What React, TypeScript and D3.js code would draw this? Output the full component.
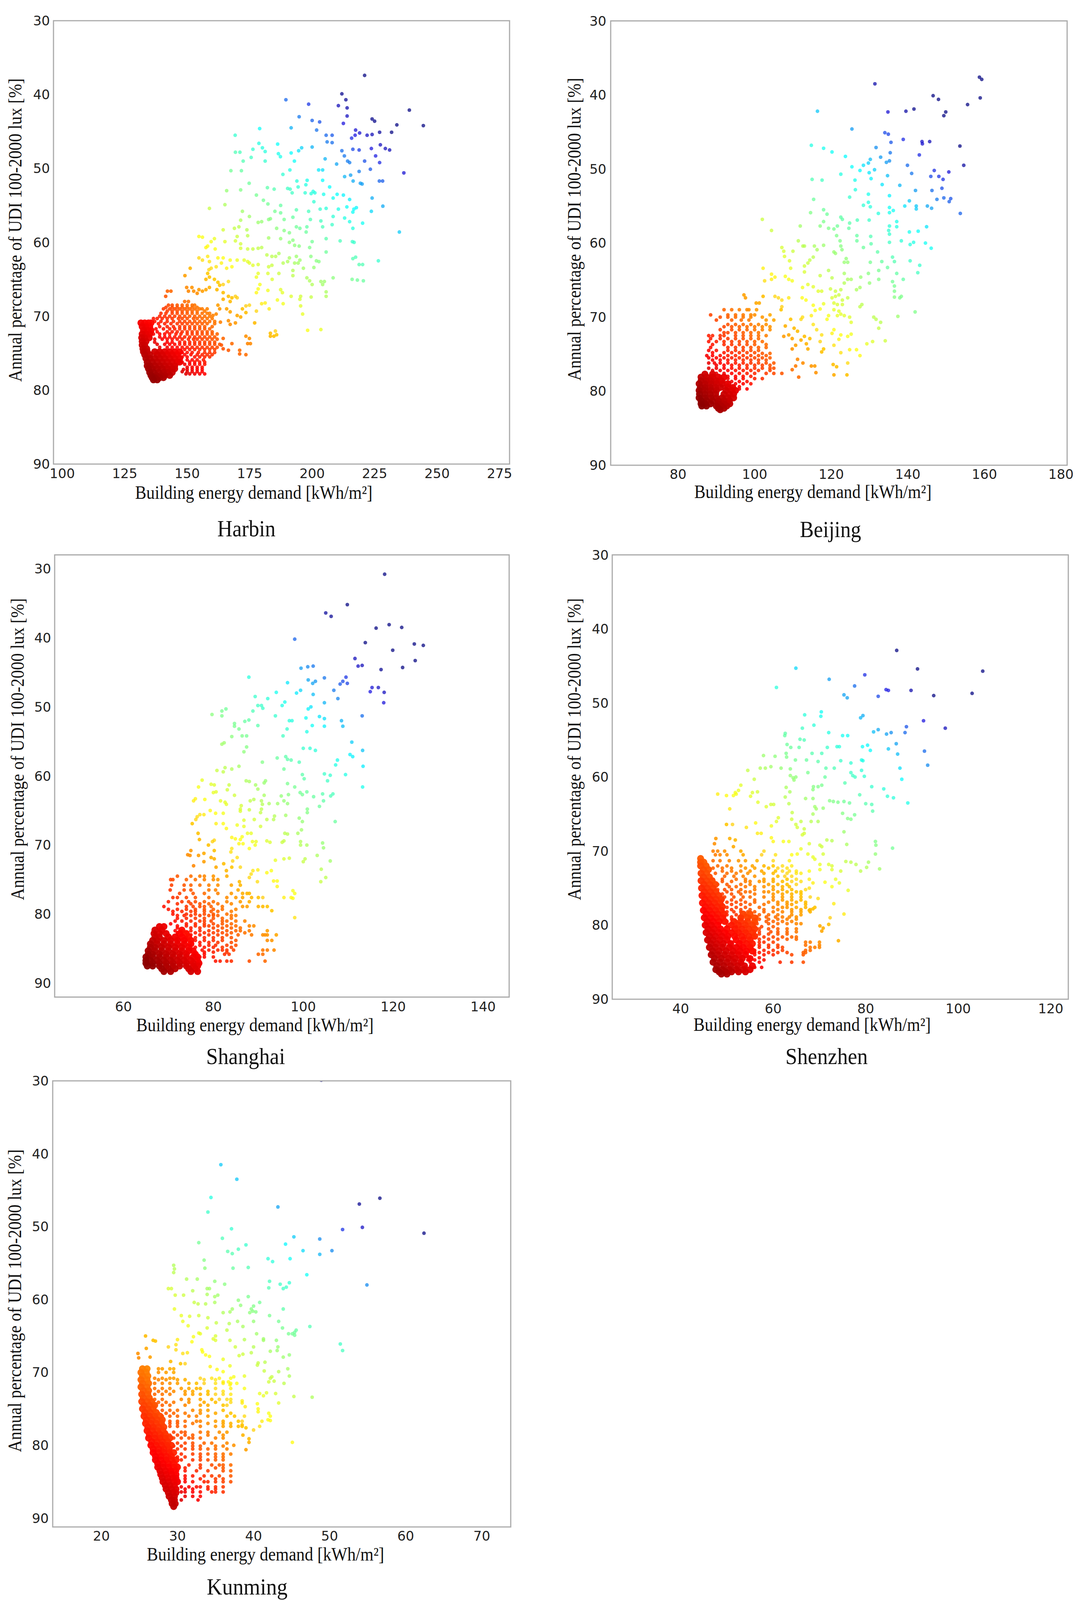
import React from "react";
import * as d3 from "d3";

type P = number[];
const yTicksStd = [30, 40, 50, 60, 70, 80, 90];
const xTitle = "Building energy demand [kWh/m²]";
const yTitle = "Annual percentage of UDI 100-2000 lux [%]";
const jetPositions = [0, 0.11, 0.35, 0.5, 0.65, 0.89, 1];
const jetColors = ["#800000", "#ff0000", "#ffff00", "#80ff80", "#00ffff", "#1810e0", "#000080"];

const harbinTicks = [100, 125, 150, 175, 200, 225, 250, 275];
const beijingTicks = [80, 100, 120, 140, 160, 180];
const shanghaiTicks = [60, 80, 100, 120, 140];
const shenzhenTicks = [40, 60, 80, 100, 120];
const kunmingTicks = [20, 30, 40, 50, 60, 70];

const harbinPoints: P[] = [[221,37.4],[211.9,39.9],[213.5,40.7],[210.5,41.5],[214,41.8],[189.5,40.7],[198.6,41.3],[238.9,42.1],[244.5,44.2],[194.8,43],[214,42.9],[200,43.5],[203,43.7],[212.5,43.9],[224,43.3],[225,43.6],[233.9,44.1],[191.6,44.5],[201.8,44.8],[217.4,44.8],[179,44.6],[169.2,45.5],[205.6,45.5],[208,45.5],[217.2,45.5],[219,45.2],[215.8,45.9],[222,45.5],[224,45.4],[227,45.1],[231.8,45.1],[206,46.4],[208,46.5],[216.3,47.4],[218.8,47.5],[211.9,47.6],[223.7,47.3],[227.3,46.8],[229.3,47.3],[231,47.5],[212.9,48.3],[225.4,48.3],[214.2,49],[215,49.2],[221,49],[227,49.2],[209.8,49.4],[205.2,48.7],[223.3,50.1],[218.8,50.4],[236.7,50.6],[213,51.1],[215.4,50.9],[216.4,51.7],[219.3,52],[220,52.1],[226.9,51.7],[228.2,51.7],[224,54],[228.3,55.1],[223.7,55.8],[234.9,58.6],[226.5,62.5],
[186.2,46.7],[178.7,46.6],[180.1,47.2],[181.2,47.7],[176.3,47.4],[175.6,48.5],[186.5,48],[187.3,48.4],[191.6,47.9],[194.6,47.6],[195.8,47.2],[200,47.1],[169.3,47.8],[171.1,47.8],[172.4,49],[167.5,50.3],[171.7,50.3],[181.2,49],[192.9,49],[188.3,50.8],[191.1,50.2],[202.6,50.2],[204.2,50.2],[174.8,52],[193.9,51.7],[197.5,52.2],[198,51.6],[204.2,51.6],[207,52.5],[190.2,52.7],[191.2,52.8],[192,53.3],[194.4,52.5],[197.2,53.3],[199.6,53.4],[200.4,53.1],[201.1,53.3],[200.7,54.5],[204.6,53.5],[208.4,54],[210,53.5],[212.5,53.6],[215,54.2],[177.7,53.6],[180.5,54.3],[182.3,54.8],[182.1,52.6],[184.8,52.8],[171.4,52.9],[165.8,53],[165.1,54.9],[158.9,55.4],[172.1,55.8],[185.1,55.8],[187.4,55],[187.4,56],[188.8,56.9],[192.3,56.6],[193.7,55.6],[198.6,55.8],[199.3,56.9],[203.2,55.5],[205.6,55.4],[210.5,55.5],[213.9,55.2],[216.7,55.5],[217.7,55.3],[216.3,55.9],[215,57.2],[216.3,58.1],[220.2,57.4],[208.4,56.5],[213,56.7],[203.5,57.1],[197.9,57.9],[204.2,57.9],[208,57.6],
[182.6,56.9],[183.3,56.8],[178.4,57.3],[179.8,57.2],[174.9,56.5],[171.4,57],[170.7,57.9],[168.9,58.1],[164.4,58.3],[173.9,58.3],[174.2,59.1],[170,59.2],[169.3,59.8],[185.8,58.1],[188.8,58.4],[190.9,58.7],[193.7,57.9],[195.1,58.1],[197.6,58.6],[187.4,59.5],[190.9,60],[192.3,59.7],[200,59.9],[205.6,59.5],[211.2,59.8],[216.1,59.9],[216.8,60],[182.6,59.4],[179.8,60.7],[178.4,60.8],[176.3,60.9],[174.2,60.9],[171.4,60.8],[171.4,60.2],[165.1,59.9],[156.1,59.3],[154.7,59.2],[160.9,59.5],[159.6,59.9],[158.2,60.5],[157.5,60.7],[161.2,60.9],[193,60.4],[194.8,60.5],[199,60.7],[199.5,61.9],[205.6,61.3],[186.7,61.5],[185.4,61.9],[181.9,61.7],[183.9,61.9],[193.7,61.9],[190.9,62.1],[190.2,62.6],[195.1,62.4],[194.4,62.8],[193,62.8],[188.4,62.8],[201.7,62.5],[202.7,62.6],[216.3,62.2],[217.4,62],[218.8,63],[220.2,63],[172.8,62.4],[174.2,62.6],[174.9,62.8],[176.3,63.1],[178.4,63],[170,62.4],[182.6,63.3],[183.9,63.1],[200.7,63.4],[192.3,63.8],[196.5,63.5],[178.4,64.2],[177.7,64.7],[182.3,64.2],[184,65],[186.7,64.2],[192.3,64.5],[197.9,64.8],[199,65.2],[208.4,64.8],[203.5,65.3],[204.9,65.3],[216,65],[218.1,65.1],[220.5,65.2],[200,65.7],[204.2,65.7],[205.6,66.7],[205.6,67.3],[179.1,65.7],[178.4,66.3],[177.7,66.8],[182.3,66.5],[187.4,66.4],[188.1,66.8],[191.6,67.3],[195.4,67.3],[195.1,67.7],[186.1,67.8],[199.6,67.4],[188.4,68.3],[195.4,68.6],[179.8,68.3],[181.2,68.2],[182.8,69],[177.7,69.3],[196.2,69.7],[198.2,71.9],[203.5,71.8],
[183.3,72.3],[184.7,72.7],[185.8,72.5],[183.3,72.7],[185.3,72],[177,70.9],[173.5,68.6],[174.9,68.5],[172.1,69],[173.5,69.5],[170,69.9],[171.4,70.1],[169.3,70.9],[167.2,71.1],[166.5,70.6],[163.3,70.8],[173.5,72.7],[174.9,73],[174.2,73.7],[175.3,73.7],[173.5,75.2],[171,74.6],[171,75.1],[164.4,73],[163.7,73.9],[166.5,74.6],[164.4,74.4],[167.9,73.7],[164.4,66.8],[166.5,67.3],[167.9,67.5],[169.3,67.3],[170,67.5],[167.2,68],[164.4,67.7],[162.3,68.5],[163,69],[161.6,69.7],[160.3,69.9],[167.2,69.4],[165.8,69],[158.2,64.2],[158.9,64.7],[157.5,65],[159.6,63.5],[158.7,63.7],[160.9,65],[162.3,65.4],[163,65.8],[164.4,65.7],[166.5,65.3],[161.9,66.4],[162.3,62.1],[164.4,62.1],[167.2,62.4],[167.9,63.3],[165.8,63.5],[161.6,63.3],[163.7,62.8],[158.2,61.9],[158.9,62.6],[154.7,62.1],[156.1,62.4],[151.2,63.5],[149.1,64.5],[149.8,66.1],[151.9,66.1],[152.6,66.6],[154.7,66.4],[156.1,66.6],[157.5,66.4],[158.9,66.1],[150.5,66.6],[154,66.9],[142.1,66.6],[143.5,66.6],[141.4,67.3]];
const harbinRows: P[] = [[68,149,150.5],[68.5,142.5,144,146,148,150,152,153],[69,140.5,143,145,147,149,151,153,155,156,158],[69.6,139.5,141.5,144,146,148,150,152,154,156,158,159],[70.3,136.5,138,140,142,144,146.5,148,150,152.5,154,156,158,160],[71,138.5,141,143.5,146,148,150,152,154,156,158,161],[71.7,137.5,140.5,143,145,147,149,151,153,155,157,159],[72.4,136.5,139,141,143,145.5,147.5,150,152,154,156,158,160,162],[73.1,137,140,142,144,146,148,150.5,152.5,154,156,158,160,162],[73.8,138,141,143,145,147,149,151,153,155,157,159,161,163],[74.5,149,151,153,155,157,159,161],[75.2,149,151.5,154,156,158,160],[75.9,150,152,154,156.5],[76.5,149,151,153,155,157],[77.2,148.5,150,152,154,156],[77.8,149.5,151,153,155,157],
[68.8,141.5,144,146,148,150,152,154],[69.3,142,144,146,148,150,152,154,157],[70,139,141,143,145,147,149,151,153,155,157,159],[70.7,137,139.5,142,144.5,147,149,151,153,155,157,159,161],[71.4,139,142,144.5,147,149,151,153,155,157,160],[72.1,136,138,142,144,146,148,150,152,154,156,158,160],[72.8,139,141,143,145,147,149,151,153,155,157,159,161],[73.5,137,142,144,147,149,151,153,155,157,159,161],[74.2,139,142,144,146,148,150,152,154,156,158,160,162],[74.9,148,150,152,154.5,157,159,161],[75.5,148,150,153,155,157,159],[76.2,148,151,153,155,157],[76.9,150,152,154,156],[77.5,148,150,152,154,156]];
const harbinCore: P[] = [[71.4,132,133.5,135],[72.4,132,133.5,135],[73.4,132,133.5],[74.4,132.3,133.8],[75.2,133,135,138,140,142,144,146],[76.2,134,136,138,140,142,144,146,147],[77.1,134.5,136,138,140,142,144,145],[78,135.5,137.5,139.5,141,143],[78.6,136.5,138],
[70.9,131.5,133,134.5,135.5],[71.9,132.5,134,135.5],[72.9,131.8,133,134.8],[73.9,132,133],[74.8,132.5,134,137,139,141,143,145,147],[75.7,133.5,135,137,139,141,143,145,147],[76.7,134,135,137,139,141,143,145],[77.6,135,136.5,138.5,140.5,142,144],[78.3,136,137,139,140.5]];

const beijingPoints: P[] = [[158.7,37.6],[159.3,37.9],[158.9,40.4],[155.6,41.3],[131.4,38.5],[146.6,40.1],[148,40.6],[149.9,42.3],[149.4,42.8],[116.4,42.2],[134.8,42.3],[139.5,42.2],[141.6,41.9],[125.4,44.6],[134,45.1],[134.9,45.3],[138.8,46],[135.6,46.4],[143.7,46.3],[143.8,46.6],[145.7,46.3],[153.6,46.9],[114.8,46.8],[118,47.2],[120.2,47.7],[131.7,47.1],[135.4,47.8],[143,48.1],[123.7,48.3],[132.9,48.4],[135.2,48.9],[134.4,49.1],[130.2,48.7],[129.7,49.2],[128.4,49.5],[125.4,49.7],[139.9,49.5],[154.6,49.5],[146.9,50.2],[127.5,50.2],[131.3,50.1],[122.5,50.7],[129.9,50.5],[141,50.6],[150.7,50.4],[134.7,50.9],[146,51],[148.1,51],[149.2,51.4],[115,51.4],[117.6,51.5],[126.2,51.5],[130.4,51.3],[133.3,52.1],[137.9,52.2],[126.3,52.8],[148.9,52.6],[146.3,52.9],[142,52.9],[129.7,53.4],[135.2,53.6],[124.8,53.8],[149.4,53.9],[151.2,54],[150.8,54.4],[147.6,54.1],[140.4,54.3],[115.4,54.1],[129.7,54.5],[128.4,54.9],[130.2,55.1],[139.2,55],[142.2,55],[142.2,55.4],[145.1,55],[146.2,55.3],[135.2,55.2],[136.2,55.6],[135.2,55.9],[132.3,56],[114.6,55.9],[153.7,56],
[102,56.8],[118,55.5],[118.9,56.1],[122.5,56.5],[122.9,56.8],[124.8,57.3],[126.8,56.9],[129.9,56.9],[137.1,57.1],[137.1,57.8],[144.9,57.8],[135.2,57.7],[135,58.3],[104.4,58.3],[111.9,57.7],[117.1,57.7],[118,57.1],[119.3,58],[120.7,58.1],[121.6,57.7],[124.6,58],[140.4,58.5],[142.7,58.4],[121.4,59],[126.7,59],[130.3,59.1],[135.2,58.8],[138.3,59.7],[140.6,60.2],[141.5,59.9],[144.6,60],[146.1,60.7],[135.2,59.9],[130.4,60.1],[126.7,59.7],[122.3,59.7],[122.5,60.4],[122.8,60.9],[111.4,59.7],[115.6,60.4],[116.3,60.9],[118,60.3],[107.1,60.6],[107.6,61.1],[112.6,60.4],[113,60.4],[110,61.1],[120.7,61.2],[121.1,61.4],[128.4,60.6],[132.1,61.2],[107.8,61.8],[115.3,61.9],[123.9,62.1],[123.4,62.6],[124.3,62.6],[136,61.9],[136.5,62.5],[130.2,62.6],[133.2,62.5],[140.6,62.4],[109.1,62.4],[114.4,62.3],[113.9,62.7],[113,63.1],[143.1,63],[134.7,63.3],[119.3,63.7],[102.2,63.4],[109.4,63.4],[113,63.9],[142.6,64],[132.4,63.7],[137.1,64.1],[123.4,64.1],[104.4,64.2],[105.3,64.6],[108,64.5],[102.6,65.1],[104.4,64.9],[108.9,64.9],[109.8,65.1],[117.1,64.4],[120.2,64.7],[124.3,64.9],[125.2,64.9],[127.7,64.6],[129.7,64.1],[138.8,64.9],[132.4,64.9],[136,65.2],[136.5,65.8],[130,65.4],[123.4,65.4],
[112.5,66],[113.9,65.6],[115.3,65.9],[116.6,66.5],[117.5,66.5],[119.8,66.2],[121.1,66.5],[122.5,66.3],[126.6,66.3],[127.5,66],[136.5,66.5],[136.5,67.3],[137.9,67.4],[138.3,67.2],[120.2,67.4],[121.1,67.2],[122,67],[122.9,67.7],[124.3,67.4],[120.7,68.1],[121.6,68.3],[122.9,68.3],[120.7,69],[122,69.2],[118,68.2],[117.1,68.9],[115.3,68.4],[115.8,69.1],[113.4,67.7],[112.4,67.4],[108.9,67.4],[107.1,67.7],[105.3,67.2],[106.2,67.4],[107.1,68.6],[106.9,69],[102.2,67.2],[97.2,67],[97.6,67.4],[100.4,68.1],[101.2,68.1],[127.5,68.6],[128,68.3],[141.9,69.3],[137.4,69.9],[131.1,70],[131.7,70.3],[132.9,70.7],[132.4,71.5],[134.1,73.2],[130.8,73.3],[129.3,73.6],[122.5,69.6],[121.6,69.8],[123.4,69.8],[124.8,70],[125.2,70.7],[119.3,69.8],[118.9,70.3],[114.8,69.8],[112.5,70],[112.1,70.3],[109.4,70.3],[108,71.2],[110.3,71.5],[111.2,71.9],[115.3,71],[116.2,71.7],[120.7,71.7],[120.2,72.2],[122.5,72.4],[122,73],[125.2,72.3],[124.3,72.6],[117.5,72.4],[117.1,73.3],[118,74.3],[117.5,74.7],[120.7,73.8],[113,72.6],[112.1,73.1],[113.5,73.6],[114.4,72.9],[109.8,72.9],[108.9,72.4],[107.6,72.6],[110.7,73.8],[109.8,74.3],[113.9,74.3],[124.8,74.4],[126.6,74.4],[127.5,75.2],[124.3,76.2],[122.5,74.8],[120.5,76.4],[121.4,76.7],[120.7,77.8],[124.1,77.8],[115.7,76.6],[116,77.5],[114.8,76.6],[112.6,76.2],[111.5,78.1],[109.8,77.1],[110.7,76.6],[111.2,75.7],[107.1,77.6]];
const beijingRows: P[] = [[69,92,94,96,98,98.5,100.5],[69.7,88.5,93,95,97,99,100,104],[70.4,90,94,96.5,98.5,103,105],[71,93,95,97,99,101,103],[71.7,91,94,96,98,100,102,104],[72.5,88,89,91,92,95,97,99,101,103],[73.3,88,90,92,94,96,98,100,102],[74.1,88.5,93,95,97,99,101,103],[74.8,89,92,94,96,98,100],[75.5,88,90,92,94,96,98,100,102,104],[76.2,88,89.5,91,93,95,97,99,101,103,105],[76.9,88,90,92,94,96,98,100,102,104,105],[77.6,90,92,94,96,98,100,103,105],[78.3,88,91,93,95,97,100,102],[79,93,95,97,99],[79.7,96,98],
[72.9,88.5,91,93,95,97,99,101],[73.7,89,92,94,96,98,100,103],[74.5,88,90,93,95,97,99,101],[75.2,87.5,89,91,93,95,97,99,101,103],[75.8,89,91,93,95,97,99,101,103],[76.5,90,92,94,96,98,100,102,104],[77.2,89,91,93,95,97,99,101,104],[78,89,91,93,95,97,99],[78.7,90,92,94,96,98],[79.4,92,94,96],[70,91,93,95,97,99,102],[71.3,92,94,96,98,100,102,104],[72.1,92,93,95,97,99,101],[74.9,102,104]];
const beijingCore: P[] = [[77.7,87,89],[78.6,86,87.3,88.6,90,91.3],[79.5,85.8,87,88.4,89.8,91,93,94.3],[80.4,85.6,87,88.4,89.8,92,93.4,94.5],[81.3,86,87.4,89,90.5,92,93.4],[82,86.2,87.4,90,91.3,92.7],[82.5,91],
[78.1,86,87.5,89,90.5,92],[79,85.5,87,88.5,90,91.5,93],[79.9,85.5,87,88.5,90,92.5,94,95],[80.9,85.5,87,88.5,90,91.5,93,94.5],[81.7,86,87,88.5,90.5,92,93.5],[82.3,90.5,92]];

const shanghaiPoints: P[] = [[118.1,30.8],[109.8,35.2],[105,36.4],[106.2,36.9],[119.1,38.1],[116.2,38.6],[121.9,38.5],[98.1,40.2],[113.8,40.7],[124.7,40.9],[126.7,41.1],[119.9,41.8],[111.5,43],[124.9,43.3],[122.1,44.3],[112.2,44.1],[113.1,44],[117.3,44.6],[99.5,44.4],[101,44.2],[102.2,44.1],[104.7,45.8],[109.5,45.7],[87.9,45.7],[101.1,46.1],[102.1,46.6],[102.7,46.3],[108.8,46.3],[108.2,46.7],[109.8,46.6],[96.5,46.5],[115.3,47.2],[116.7,47.2],[114.9,47.8],[118,47.9],[106.8,47.6],[99.4,47.6],[98.5,48],[94,47.9],[102.2,48.2],[89.3,48.5],[92.1,48.8],[107.7,48.8],[117.9,49.4],[104.7,49.4],[95.9,49.3],[95.3,49.8],[89.9,49.8],[90.7,49.8],[91,50.2],[88.8,50.6],[101.1,50.3],[101.7,50],[82.8,50.3],[81.9,50.6],[79.7,51.1],[81.9,51.3],[93.8,51.3],[100.6,51.6],[103.6,51.4],[104.7,51.7],[113.1,51.3],[108.5,52],[96.9,52],[97.5,52],[87.9,51.9],[87,52.1],[85.7,53.2],[84.7,52.4],[84.7,52.8],[89.9,52.7],[102,52.7],[104.7,52.8],[108.8,52.8],[96.4,53.2],[100.8,53.6],[86.4,54.2],[87.4,54.2],[84.1,54.3],[95.5,54.2],[110.8,55.1],[82.4,55.2],[81.9,55.4],[100,56],[101.5,56],[102.7,56.3],[113.2,56.3],[87.4,55.8],[86.8,56.5],[110.4,56.9],[111,57.2],[96.1,57.2],[96.5,57.6],[97.3,57.7],[94.2,57.4],[107.6,57.7],[90.9,58],[99.1,58],[107.2,58.4],[85.7,58.6],[84.1,59],[113.3,58.6],[95.7,59],[82.6,58.8],[82.2,59.4],[80.8,59.2],[99.8,59.8],[100.2,60.4],[104.7,59.7],[106,59.9],[109.4,59.8],[105.4,60.7],[87.3,60.7],[88,60.8],[77.5,60.6],[91.6,60.7],[91.3,61],[96.5,61.1],[79.5,61.2],[80.2,61.3],[76.7,61.6],[83.5,61.3],[89.4,61.3],[98.1,61.6],[113.2,61.6],[83.1,62],[89.9,61.9],[80,62.4],[80.6,62.3],[99.3,62.4],[99.8,62.7],[100.8,62.3],[106.6,62.6],[106.1,62.9],[96.7,62.7],[95.1,62.9],[84.7,62.8],[91.3,62.8],[102.3,63],[104.3,62.6],[76,63.3],[75.6,63.6],[78.1,63.4],[81.6,63.6],[82.6,63.8],[82.9,64.1],[88.2,63.6],[89,63.4],[90.7,63.6],[95.7,63.6],[96.5,64],[94.3,64],[92.4,64],[90.9,64.1],[86.2,64.3],[104.5,63.6],[103.6,64.4],[100.9,64.8],[100.9,65.3],[86,64.8],[86,65.1],[88,64.9],[79.3,65],[80.5,65.4],[82.2,65.4],[90.7,64.8],[90.5,65.3],[77,65.6],[77.9,65.6],[76.4,65.9],[76.1,66.3],[75.3,66.9],[96.1,65.7],[93.6,65.8],[93.4,66.3],[91.9,66.3],[99.1,66.1],[99.8,66.6],[107.1,66.6],[86.8,66.4],[89.1,66.3],[85.3,67.1],[86.8,67.3],[82.9,67.6],[80.6,66.9],[82.2,66.9],[90.5,67.3],[99.6,67.8],[98.8,68.3],[95.9,68.3],[96.5,68.4],[76.6,68.3],[76.9,69.2],[79.8,69.5],[78.9,70],[80.2,69.3],[84.1,68.9],[84.9,69.1],[86.4,68.8],[87.6,68.3],[88.4,68.3],[86,69.2],[85.7,69.8],[86.6,69.8],[88.7,69.5],[89.5,69.5],[89.3,70],[91.9,69.4],[92.6,69.6],[95.3,69.6],[95.7,69.4],[99.4,69.5],[99.4,70],[100.8,70],[104.3,69.7],[104.5,70.4],[84.1,70.5],[83.9,71],[88,70.5],[75,70.8],[74.3,71.4],[74.8,71.5],[76.7,71.5],[77.9,71.2],[79.5,71.8],[80.2,70.8],[80.2,72],[103.1,71.5],[95.7,72],[96.9,71.9],[100,72.4],[100.4,72],[93.8,72.2],[106,72.3],[82.3,72.7],[85.3,71.8],[84.3,72.3],[84.1,73.2],[86,73.2],[82.9,73.7],[88.8,73.7],[89.9,73.6],[104,73.5],[92.9,73.7],[91.9,74],[105,74.7],[103.9,75.3],[75.6,73],[77.9,72.4],[80.6,73.2],[88.4,74.2],[88,74.7],[89.8,75.3],[93.4,75.2],[94.2,75.2],[94.2,76],[85.8,75.3],[97.7,76.6],[98.1,77],[95.7,77.6],[97.3,77.6],[97.7,77.7],[93,79.5],[98.1,80.5]];
const shanghaiRows: P[] = [[74.5,72,75,77,78,80,83],[75,70.5,71,74,76,78,80,81],[75.8,70.7,73.5,75,77,79,81,84,86],[76.5,70.4,73.5,75,79,80.5,85.5],[77,72.5,75.5,78,81,84,86.5,87.5,88],[77.6,71,72,74,76,79,83,85,86.5,88.5,90,91],[78.2,70,73,74.5,76,78,80,83,86,88],[78.9,69,74,75.5,77,78,79.5,82,86.5,87.5,90,91,92],[79.6,71,73,75,76,78,79.5,81,84],[80.2,72,73.5,75,77,79,80,81,84,85],[81,71.5,73,75,77,78,79.5,82,83,85,87],[81.7,72,74,76,78,79,81,83,85,88,89],[82.4,71.5,73,75,77,79,81,83,85,86,88,92],[83,73,75,77,79,81,83,85.5,88.5,91,91.5,92,94],[83.8,72,74,76,78,80,82,85,92,93],[84.5,75,77,79,80.5,83,85],[85.2,75,77.5,79,81,82,83,84.5,91,92,93.5],[85.8,74,76,78,82.5,83.5,90,91],[86.8,80.5,81.5,83,84,88,91.5],
[78.5,72,75,77,79,81,84],[79.3,70,72,74,76,78,80,82,85],[80,71,74,76,78,80,83],[80.6,72,74,76,78,80,82,84],[81.4,70.5,74,76,78,80,82,84],[82,72,75,77,80,82,84,86],[82.7,72,74,76,78,80,82,84,87],[83.4,74,76,78,80,82,84],[84.1,75,77,79,81,84],[84.8,76,78,80,82,84],[85.5,76,78,80,83],[86.2,77,78,80]];
const shanghaiCore: P[] = [[81.8,68,69],[82.8,66.8,68,69.5,72.5,74],[83.8,66.5,67.5,69,70.5,72,73.5,75],[84.8,66,67,68.5,70,71.5,73,74.5],[85.8,65.5,66.5,68,69.5,71,72.5,74,76],[86.7,65,66,67.5,69,70.5,72,73.5,75,76.5],[87.5,65.3,66.5,68,69.5,71,72.5,74,75.5,76.5],[88.3,69,70.5,75,76.5],
[82.3,67,68.5,73],[83.3,67,68,70,71.5,73,74.5],[84.3,66,67.5,69,70.5,72,73.5,75],[85.3,65.5,67,68.5,70,71.5,73,74.5,75.5],[86.2,65,66.5,68,69.5,71,72.5,74,75.5,76.5],[87.1,65,66.5,68,69.5,71,72.5,74,75.5,76.8],[87.9,68.5,70,71.5,74.5,76]];

const shenzhenPoints: P[] = [[86.7,42.9],[64.9,45.3],[91.2,45.4],[105.3,45.7],[79.8,46.2],[72.1,46.8],[77.6,47.7],[60.7,47.9],[84.4,48.2],[84.9,48.3],[89.8,48.3],[103,48.7],[75.3,48.9],[76,49.3],[82.7,49.1],[94.7,49],[70.4,51.2],[70.3,51.8],[66.8,51.6],[79.4,51.7],[78.9,52],[92.5,52.4],[68.8,53],[66.3,53.4],[88.8,53.2],[97.2,53.4],[82.7,53.6],[81.7,53.9],[84.5,54.2],[85.5,54],[88.5,54],[72,54],[62.6,54.1],[62.5,54.4],[75,54.4],[76.1,54.4],[65.8,54.9],[66.7,55],[86.6,55.5],[63,55.6],[63.8,56],[65.6,56],[71.7,56],[73.8,55.9],[74.3,55.9],[79.3,55.9],[80.4,55.7],[81,56.4],[84.9,56.2],[92.7,56.5],[62.8,56.8],[68.4,56.8],[70.5,56.8],[86.9,56.9],[57.9,57.1],[60.4,57.2],[62.9,57.3],[79.1,57.7],[79.4,57.8],[64.8,57.7],[67.2,57.7],[69.7,57.9],[74.6,57.8],[76.8,58.1],[93.4,58.4],[57.2,58.8],[58.3,58.8],[59.5,58.6],[61.7,58.8],[63.7,58.9],[87.4,58.8],[71.4,58.8],[73.2,58.8],[79.1,59.1],[54.5,59.1],[67.5,59.4],[76.8,59.4],[77.2,59.8],[77.7,60],[63.7,59.8],[64.3,60.1],[64.9,60],[64.5,60.4],[55.9,60.3],[71.2,60],[79.7,59.9],[87.8,60.3],[75.5,60.8],[53,61.1],[70.5,61.1],[81.3,61.3],[68.7,61.3],[69.7,61.3],[62.8,61.4],[83.9,61.6],[68.6,61.7],[52.5,61.8],[56.6,62],[55.5,62.1],[63.6,62],[51.8,62.1],[52,62.3],[48,62.3],[49.9,62.5],[51.4,62.5],[78.7,62.4],[55.1,62.6],[62.6,62.7],[84.7,62.6],[86,62.8],[67,62.9],[68.6,62.9],[72.2,63.2],[73,63.3],[74,63.4],[75.3,63.3],[56.7,63.4],[76.5,63.5],[80,63.6],[81.3,63.7],[89.1,63.5],[60.1,63.7],[59.5,63.7],[63.4,63.6],[58.5,64],[69,64],[50.6,64.3],[69.3,64.3],[81.5,64.6],[70.8,64.2],[64.1,64.8],[75,64.9],[77.6,65.1],[61.1,65.5],[60.7,66],[64,65.7],[68.6,65],[64.9,66.4],[66,66],[68.2,66],[69.7,66],[76.1,65.6],[76.8,65.7],[56.2,66.2],[59.6,66.6],[49.9,66.4],[51.2,66.4],[54.2,66.8],[65.2,66.8],[66.7,67],[75.3,67.4],[56.6,67.6],[57.4,67.6],[66.7,67.6],[66.3,67.8],[50.6,68.3],[51.8,68.5],[59.6,68.2],[60,68.7],[47.6,68.3],[62.2,68.7],[63.4,68.7],[71.6,68.5],[72.7,68.6],[82.1,68.7],[82.2,69.2],[75.9,69.1],[67.8,69],[70.1,69.2],[51.4,69.4],[47.3,69],[85.8,69.6],[70.5,69.4],[66,69.7],[65.2,70.4],[67.5,70.4],[68.6,70.8],[69,71.1],[70.8,70.4],[82.1,70.4],[75.7,71.4],[76.8,71.5],[77.9,71.8],[80.6,71.5],[80.2,72.2],[78.9,72.7],[83,72.4],[70.1,71.8],[72,71.8],[72.7,72],[74.6,72.7],[72.7,72.5],[70.1,72.5],[67.8,72.7],[74.3,74.3],[73.5,73.8],[72.7,74.8],[71.2,74.2],[76.2,75.3],[67.8,73.8],[68.6,74.3],[67.8,75],[73.1,77.1],[75.3,78.5],[72.3,79],[74.1,82.1],[72,79.9],[70.1,80.1],[70.8,80.4],[70.5,80.8],[69.7,76.4],[67.8,78],[68.6,77.8]];
const shenzhenRows: P[] = [[70,47,48,49.5,53,58],[70.5,47.5,48.5,50,53.5,57.5,60.5,64],[71.3,47,48.5,50.5,52.5,54,56.5,60,63.5],[72,48,50,53,55.5,58,60,62,64],[72.7,49,51,53,55,57.5,60.5,62,63.5,65],[73.4,49.5,51.5,53.5,56,61,62.5,64],[74.1,49,51,54,55,57,58,60,62,64,66],[74.8,50.5,52,54,56,58,60,62,63.5],[75.5,50,52.5,54,55,58,59,61,63,65,66],[76.2,49.5,51.5,53.5,55,58,60,62,64,66,68],[76.9,50,52,54,56,59,61,63,65,67],[77.6,50,52,54,57,60,62,63,65,67,69],[78.2,50,51.5,53,54.5,56,58,60,62,64,66,68],[78.9,49.5,51,53,55,56.5,58.5,60.5,62,63.5,65],[79.5,50,52,54,56,58.5,60,62,64],[80.2,50,52,54,56,57.5,60],[80.9,50,52,54,56,57,59.5,61,63,65],[81.6,50,52,54,56,58,60,62,64,65],[82.3,51,53,55,57,58,60,67,68,70],[83,51,53,55,57,59,61,62,68,69,70],[83.7,52,54,56,57,59,61,63,66.5,67],[84.4,51,53,55,57],[85,53,55,57,61.5,64,66.5],[85.7,52,54,56,57.5],
[72.3,47,49,51,54,56,59,61,63],[73,47.5,50,52,54.5,58,60,63,65,66],[73.8,47,49,52,54,58,60,63,65],[74.5,48,50,53,55,59,61,63,65],[75.2,48,49.5,51,53,56,60,62,64,67],[75.8,49,51,53,56,60,62,64,66],[76.6,49,51,53,56,60,62,64,66],[77.2,49,51,53,55,58,61,63,64,67],[77.9,49,51,53,55,58,61,64,66,68],[78.6,50,52,54,57,59,61,64,66],[79.2,51,57,59,61,63,65],[79.8,50,56.5,59,61,63,65,66],[80.5,57,59,61,63,65],[81.2,57,59,61,63],[81.9,57,59,61,63,65],[82.7,57,59,61,67,70],[83.4,56,58,60,62,67,68],[84,56,58,60,64,66.5],[84.7,54.5,56,58]];
const shenzhenCore: P[] = [[71,44.3],[72,44.3,45.5],[73,44.4,45.6],[74,44.4,45.6,46.8],[75,44.5,45.7,47],[76,44.6,45.8,47,48.2],[77,44.7,46,47.3,48.5],[78,44.9,46.2,47.5,48.8],[79,45.1,46.4,47.7,49,53,54.5,56],[80,45.3,46.6,48,51,52.5,54,55.5],[81,45.5,46.8,48.2,49.5,51,52.5,54,55.5],[82,45.8,47,48.5,50,52,53.5,55],[83,46.2,47.5,49,50.5,52,53.5,55],[84,46.6,48,49.5,51,52.5,54],[85,47,48.5,50,51.5,53],[86,47.6,49,50.5,52,53.5,55],[86.6,48.8,50],
[71.5,44.3,45],[72.5,44.9,46],[73.5,44.9,46.2],[74.5,45,46.3,47.5],[75.5,45.1,46.4,47.6],[76.5,45.2,46.4,47.6,48.8],[77.5,45.3,46.6,47.9,49],[78.5,45.5,46.8,48,49.3,53.5,55],[79.5,45.7,47,48.3,49.5,51.5,53,54.5,56],[80.5,45.9,47.2,48.6,50,51.7,53.2,54.7,56],[81.5,46.2,47.5,48.9,50.2,51.7,53.2,54.7,56],[82.5,46.5,47.8,49.2,50.8,52.7,54.2,55.5],[83.5,46.9,48.3,49.8,51.3,52.8,54.2,55.5],[84.5,47.3,48.8,50.3,51.8,53.3,55],[85.5,47.8,49.3,50.8,52.3,53.8,55.5],[86.3,48.3,49.7,51,52.5,54]];

const kunmingPoints: P[] = [[48.9,29.9],[35.7,41.5],[37.8,43.5],[34.4,46],[56.6,46.1],[53.9,46.9],[43.2,47.3],[34,48],[54.3,50.1],[37.1,50.3],[51.7,50.4],[62.4,50.9],[45.3,51.4],[35.9,51.6],[48.7,51.7],[32.8,52.2],[38,53.1],[39,52.5],[44.2,52.4],[36.6,53.4],[37.2,53.7],[46.5,53.3],[50.3,53.3],[48.7,53.8],[41.9,54.4],[42.5,54.8],[44.8,54.4],[33.5,54.6],[29.5,55.3],[33.6,55.7],[29.6,55.8],[37.3,55.7],[39.3,55.6],[29.5,56.3],[47,56.6],[31.2,57.2],[32.6,57.2],[34.9,57.5],[36.2,57.9],[42.1,57.5],[44.7,57.7],[43.5,57.9],[54.9,58],[42,58.4],[44.3,58.3],[43.9,58.5],[28.8,58.5],[29.2,58.5],[33.9,58.5],[34.2,58.5],[32,58.8],[29.7,59.4],[30.8,59.4],[33.9,59.3],[34.9,59.6],[35.3,59.4],[39.3,59.6],[38,60.1],[38.3,60.8],[32.2,60.4],[32.7,60.6],[33.7,60.6],[34.9,60.4],[40.8,60.4],[40,60.9],[39.7,61.3],[39.9,61.6],[40.3,61.7],[39.5,61.8],[43.9,61.3],[29.6,61.3],[37.2,61.3],[36.9,61.7],[36,61.8],[30.5,62.2],[32.8,62.2],[31.6,62.3],[42.1,62.2],[34,62.5],[30.7,63],[40,63],[37.9,63],[43.3,63],[35.1,63.2],[36.8,63.3],[31.4,63.6],[38.6,63.7],[47.4,63.7],[43.8,63.9],[33.9,63.9],[36.5,64.2],[45.6,64.2],[45.4,64.5],[45.1,64.7],[44.6,64.7],[45.4,64.9],[32.8,64.6],[33,64.7],[35,65],[40.4,64.7],[41.3,65.4],[41.3,65.6],[38.8,65.5],[36.9,65.6],[25.8,65],[26.8,65.6],[27.1,65.7],[30,65.5],[32.1,65.1],[51.4,66.1],[51.7,67],[43,65.6],[35,65.6],[34.7,65.4],[31.9,65.8],[29.8,66.2],[28.8,66.5],[25.9,66.7],[40,66.5],[43.2,66.5],[43.1,67],[37.6,66.5],[33.2,66.9],[33.3,67.2],[29.8,66.9],[30.7,67.4],[31.3,67.3],[33.7,67.6],[34.2,67.8],[38.6,67.5],[39.7,67.3],[38.1,67.7],[42.2,67.1],[44.7,67.6],[43.9,67.9],[24.8,67.4],[24.9,68],[26.4,67.9],[36,68.2],[29.1,68.5],[30.4,68.8],[31,68.8],[36.9,69.1],[34.3,69.2],[40.6,68.7],[41.5,68.6],[40.5,69],[44.5,69.5],[35.2,69.6],[36,69.9],[41.4,69.8],[42.2,70.8],[42.4,70.6],[42,71.3],[42.7,71.2],[44.7,70.5],[43.3,69.9],[44,71.5],[38.8,70.5],[37.4,70.6],[36.7,71.3],[36,71.3],[37.8,71.5],[38.8,72.2],[36.9,71.7],[41.3,73.2],[40.8,72.9],[42.9,72.9],[41.7,72.8],[45.3,73.3],[47.7,73.4],[43.3,74.2],[40.5,74.3],[40.6,75],[40.6,75.4],[38.5,73.9],[38.5,74.2],[38.9,74.7],[38.8,76],[42,75.6],[42.2,76],[42.2,76.6],[41.9,76.5],[41.1,76.7],[40.8,77.4],[40,77.9],[39,77.6],[38.5,77.2],[38.6,78.6],[39.4,79.1],[39.4,79.6],[39,80.6],[45.1,79.6],[37.4,80]];
const kunmingRows: P[] = [[69.5,27.5,28,29,29.5],[70,27.5,28.5,29.5],[70.8,27,28,29,29.5,33,34.5,35.5,37],[71.5,27,28,29,30,31.5,32.5,33.5,35,36,37],[72.2,27,28,29,30.5,31.5,32.5,33,35,37],[73,27,28,29,31,32,33,34,35,36,37],[73.7,27,28,30.5,31.5,33,34.5,35.5,36.5,37],[74.5,27,28,29,31,33,34,36,36.5],[75.2,27,28,29,30,32,33,34,36],[76,27,28,29,30,31.5,32.5,34,36.5,37.5],[76.7,27,28,29,30,31,32.5,33,35,36,38,38.5],[77.4,27,28,29,30,31,33,35,36,37,38,38.5],[78.2,27.5,28.5,29.5,30.5,31,33,34,35.5,36.5],[79,27.5,28.5,29.5,30.5,31.5,32,33,35,36],[79.7,28,29,30,31,32,33.5,34.5,36.5],[80.5,28,29,30,31,32,33,34,35,36.5],[81.2,28,29,30.5,32,33,34,35,36,37],[82,28.5,29.5,30.5,32,33,34,35,36],[82.7,29,30,31.5,33,34.5,35.5,36,37],[83.5,29,30,31,32.5,34,36,37],[84.2,29.5,31,32,33.5,34.5,35.5,37],[85,30,31,32,33.5,34,35,36,37],[85.7,30.5,31.5,32.5,33,34,35,36],[86.4,30.5,31,32,33,34.5,35,36],[87,31,32,33],[87.5,30.5,32.7],
[71,27.5,28.5,30,31,33.5,35],[72.6,27.5,28.5,29.5,31,32,34,36],[74.1,27.5,28.5,29.5,31.5,33.5,35,37],[75.6,27.5,28.5,29.5,31,33,35,37],[77,28,29,30,32,34,36,37],[78.6,28,29,30,31,32,34,36],[80.1,28.5,29.5,30.5,32,33,35,36],[81.6,29,30,31,33,35,36],[83.1,30,31,33,35,36],[84.6,30,31,33,35,36],[86,31,32,34,35]];
const kunmingCore: P[] = [[69.5,25.4,26],[70.5,25.4,26.1],[71.5,25.4,26.2],[72.5,25.5,26.2],[73.5,25.5,26.3],[74.5,25.6,26.3,27],[75.5,25.7,26.4,27.2],[76.5,25.9,26.6,27.3,28],[77.5,26.1,26.8,27.5,28.2],[78.5,26.3,27,27.7,28.4],[79.5,26.6,27.3,28,28.7],[80.5,26.8,27.5,28.2,28.9],[81.5,27.1,27.8,28.5,29.2],[82.5,27.4,28.1,28.8,29.5],[83.5,27.7,28.4,29.1,29.7],[84.5,28,28.7,29.4,29.8],[85.5,28.4,29,29.6],[86.5,28.8,29.4,29.8],[87.5,29.2,29.6],[88.4,29.5],
[70,25.2,25.9],[71,25.2,26],[72,25.2,26],[73,25.3,26.1],[74,25.3,26,26.6],[75,25.4,26.1,26.8],[76,25.6,26.3,27,27.7],[77,25.8,26.5,27.2,27.9],[78,26,26.7,27.4,28.1],[79,26.2,27,27.7,28.4,29],[80,26.5,27.2,27.9,28.6,29.2],[81,26.8,27.5,28.2,28.9,29.5],[82,27.1,27.8,28.5,29.2,29.8],[83,27.4,28.1,28.8,29.5,30],[84,27.8,28.5,29.2,29.8],[85,28.1,28.8,29.5,30],[86,28.5,29.2,29.8],[87,28.9,29.6],[88,29.3,29.7]];

const jet = d3.scaleLinear<string>().domain(jetPositions).range(jetColors).clamp(true);
const expand = (rows: P[]) => rows.flatMap(([y, ...xs]) => xs.map((x) => [x, y]));

type Panel = {
  name: string; points: P[]; rows: P[]; core: P[]; ticks: number[];
  xDomain: [number, number]; yDomain: [number, number]; box: [number, number, number, number];
  xTitleX: number; xTitleY: number; yTitleX: number; yTitleY: number; yTitleLen: number;
  yTickX: number; xTickY: number; nameX: number; nameY: number; nameLen: number;
};
const panels: Panel[] = [
  { name: "Harbin", points: harbinPoints, rows: harbinRows, core: harbinCore, ticks: harbinTicks, xDomain: [96.5, 279], yDomain: [30, 90], box: [137, 53, 1305, 1188], xTitleX: 650, xTitleY: 1277, yTitleX: 55, yTitleY: 589, yTitleLen: 777, yTickX: 128, xTickY: 1212, nameX: 631, nameY: 1373, nameLen: 149 },
  { name: "Beijing", points: beijingPoints, rows: beijingRows, core: beijingCore, ticks: beijingTicks, xDomain: [62.4, 181.6], yDomain: [30, 90], box: [1564, 53.5, 2733, 1191], xTitleX: 2082, xTitleY: 1275, yTitleX: 1487, yTitleY: 587, yTitleLen: 775, yTickX: 1553, xTickY: 1214, nameX: 2127, nameY: 1375, nameLen: 157 },
  { name: "Shanghai", points: shanghaiPoints, rows: shanghaiRows, core: shanghaiCore, ticks: shanghaiTicks, xDomain: [44.7, 145.8], yDomain: [28, 92], box: [140, 1420.5, 1304, 2552.5], xTitleX: 653, xTitleY: 2640, yTitleX: 61, yTitleY: 1918, yTitleLen: 773, yTickX: 131, xTickY: 2577, nameX: 629, nameY: 2724, nameLen: 202 },
  { name: "Shenzhen", points: shenzhenPoints, rows: shenzhenRows, core: shenzhenCore, ticks: shenzhenTicks, xDomain: [25.2, 123.8], yDomain: [30, 90], box: [1568, 1420.5, 2736, 2558], xTitleX: 2080, xTitleY: 2639, yTitleX: 1487, yTitleY: 1918, yTitleLen: 773, yTickX: 1559, xTickY: 2582, nameX: 2117, nameY: 2724, nameLen: 211 },
  { name: "Kunming", points: kunmingPoints, rows: kunmingRows, core: kunmingCore, ticks: kunmingTicks, xDomain: [13.6, 73.8], yDomain: [30, 91.2], box: [135, 2767, 1308, 3909], xTitleX: 680, xTitleY: 3995, yTitleX: 54, yTitleY: 3330, yTitleLen: 775, yTickX: 125, xTickY: 3932, nameX: 633, nameY: 4082, nameLen: 207 },
];

const SERIF = "'Liberation Serif', serif";
const SANS = "'DejaVu Sans', sans-serif";

function ScatterPanel({ p, i }: { p: Panel; i: number }) {
  const [x0, y0, x1, y1] = p.box;
  const xs = d3.scaleLinear().domain(p.xDomain).range([x0, x1]);
  const ys = d3.scaleLinear().domain(p.yDomain).range([y0, y1]);
  const fine = [...p.points, ...expand(p.rows)];
  const coarse = expand(p.core);
  const all = [...fine, ...coarse];
  const xe = d3.extent(all, (d) => d[0]) as [number, number];
  const ye = d3.extent(all.filter((d) => d[1] > 35), (d) => d[1]) as [number, number];
  const tOf = (d: P) => {
    const t = 0.45 * (d[0] - xe[0]) / (xe[1] - xe[0]) + 0.55 * (ye[1] - d[1]) / (ye[1] - ye[0]);
    return t + Math.max(0, t - 0.65) * 0.8;
  };
  const marks = [
    ...fine.map((d) => ({ d, core: false, t: tOf(d) })),
    ...coarse.map((d) => ({ d, core: true, t: tOf(d) })),
  ].sort((a, b) => b.t - a.t);
  return (
    <g>
      <defs><clipPath id={`clip${i}`}><rect x={x0} y={y0} width={x1 - x0} height={y1 - y0} /></clipPath></defs>
      <g clipPath={`url(#clip${i})`}>
        {marks.map((m, k) => (
          <circle key={k} cx={xs(m.d[0])} cy={ys(m.d[1])} r={m.core ? 9 : 4.7}
            fill={jet(m.t)} fillOpacity={m.core ? 0.97 : m.t < 0.3 ? 0.88 : 0.72} />
        ))}
      </g>
      <rect x={x0} y={y0} width={x1 - x0} height={y1 - y0} fill="none" stroke="#ababab" strokeWidth={3} />
      {yTicksStd.map((v) => (
        <text key={v} x={p.yTickX} y={ys(v)} textAnchor="end" dominantBaseline="central" fontFamily={SANS} fontSize={34} fill="#222">{v}</text>
      ))}
      {p.ticks.map((v) => (
        <text key={v} x={xs(v)} y={p.xTickY} textAnchor="middle" dominantBaseline="central" fontFamily={SANS} fontSize={34} fill="#222">{v}</text>
      ))}
      <text x={p.xTitleX} y={p.xTitleY} textAnchor="middle" fontFamily={SERIF} fontSize={48} textLength={608} lengthAdjust="spacingAndGlyphs" fill="#111">{xTitle}</text>
      <text transform={`translate(${p.yTitleX},${p.yTitleY}) rotate(-90)`} textAnchor="middle" fontFamily={SERIF} fontSize={48} textLength={p.yTitleLen} lengthAdjust="spacingAndGlyphs" fill="#111">{yTitle}</text>
      <text x={p.nameX} y={p.nameY} textAnchor="middle" fontFamily={SERIF} fontSize={60} textLength={p.nameLen} lengthAdjust="spacingAndGlyphs" fill="#111">{p.name}</text>
    </g>
  );
}

export default function App() {
  return (
    <svg width={2789} height={4121} viewBox="0 0 2789 4121" style={{ position: "absolute", left: 0, top: 0, display: "block", background: "#fff" }}>
      {panels.map((p, i) => <ScatterPanel key={p.name} p={p} i={i} />)}
    </svg>
  );
}
